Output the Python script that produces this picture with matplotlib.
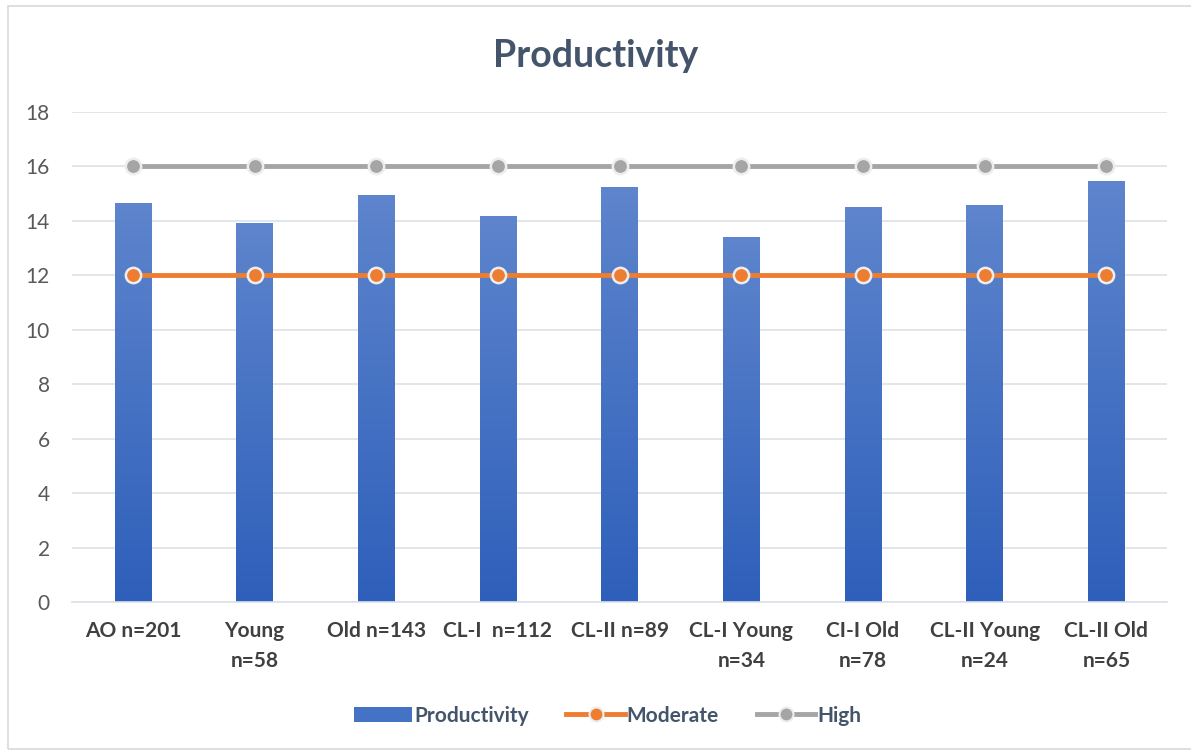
import numpy as np
import matplotlib.pyplot as plt
from matplotlib.patches import Rectangle
from matplotlib.colors import LinearSegmentedColormap
from matplotlib.lines import Line2D

plt.rcParams['font.family'] = ['Lato', 'DejaVu Sans']

# data
categories = ['AO n=201', 'Young\nn=58', 'Old n=143', 'CL-I  n=112', 'CL-II n=89',
              'CL-I Young\nn=34', 'CI-I Old\nn=78', 'CL-II Young\nn=24', 'CL-II Old\nn=65']
productivity = [14.67, 13.93, 14.96, 14.19, 15.26, 13.42, 14.52, 14.6, 15.48]
moderate = [12, 12, 12, 12, 12, 12, 12, 12, 12]
high = [16, 16, 16, 16, 16, 16, 16, 16, 16]

fig = plt.figure(figsize=(11.91, 7.51), dpi=100)
ax = fig.add_axes([0.0605, 0.1984, 0.9195, 0.6525])

# chart border (right edge runs off the picture)
fig.patches.append(Rectangle((8 / 1191, 0.002), 1.0, 1 - 6 / 751 - 0.002,
                             transform=fig.transFigure, fill=False,
                             edgecolor='#D9D9D9', linewidth=1.2))

x = np.arange(len(categories))
bars = ax.bar(x, productivity, width=0.3, color='#4472C4', zorder=2)

# vertical gradient inside the bars
cmap = LinearSegmentedColormap.from_list('blu', ['#2E5FBA', '#5E85CD'])
grad = np.linspace(0, 1, 256).reshape(-1, 1)
for b in bars:
    im = ax.imshow(grad, cmap=cmap, aspect='auto', origin='lower',
                   extent=[b.get_x(), b.get_x() + b.get_width(), 0, b.get_height()],
                   zorder=2.1)
    im.set_clip_path(b)

ax.plot(x, moderate, color='#ED7D31', linewidth=3.5, marker='o', markersize=11,
        markerfacecolor='#ED7D31', markeredgecolor='#EDEDED', markeredgewidth=1.8, zorder=3)
ax.plot(x, high, color='#A5A5A5', linewidth=3.5, marker='o', markersize=11,
        markerfacecolor='#A5A5A5', markeredgecolor='#EDEDED', markeredgewidth=1.8, zorder=3)

ax.set_xlim(-0.5, len(categories) - 0.5)
ax.set_ylim(0, 18)
ax.set_yticks(np.arange(0, 19, 2))
ax.yaxis.grid(True, color='#DCE1E8', linewidth=1.2, zorder=0)
ax.set_axisbelow(True)
for s in ['top', 'right', 'left']:
    ax.spines[s].set_visible(False)
ax.spines['bottom'].set_color('#DCE1E8')
ax.spines['bottom'].set_linewidth(1.2)
ax.tick_params(axis='both', length=0)
ax.tick_params(axis='y', labelsize=15, labelcolor='#595959', pad=16)
ax.set_xticks(x)
ax.set_xticklabels(categories, fontsize=15, fontweight='bold', color='#404040',
                   linespacing=1.6, va='top')
ax.tick_params(axis='x', pad=14)

fig.text(0.5, 0.926, 'Productivity', ha='center', va='center', fontsize=27,
         fontweight='bold', color='#44546A')

handles = [Rectangle((0, 0), 1, 1, facecolor='#4472C4'),
           Line2D([], [], color='#ED7D31', linewidth=3.5, marker='o', markersize=10,
                  markeredgecolor='#EDEDED', markeredgewidth=1.5),
           Line2D([], [], color='#A5A5A5', linewidth=3.5, marker='o', markersize=10,
                  markeredgecolor='#EDEDED', markeredgewidth=1.5)]
leg = fig.legend(handles, ['Productivity', 'Moderate', 'High'], loc='center',
                 bbox_to_anchor=(0.51, 0.047), ncol=3, frameon=False, fontsize=15,
                 labelcolor='#44546A', handlelength=2.8, handletextpad=0.1,
                 columnspacing=1.8)
for t in leg.get_texts():
    t.set_fontweight('bold')

fig.savefig('out.png', dpi=100)
